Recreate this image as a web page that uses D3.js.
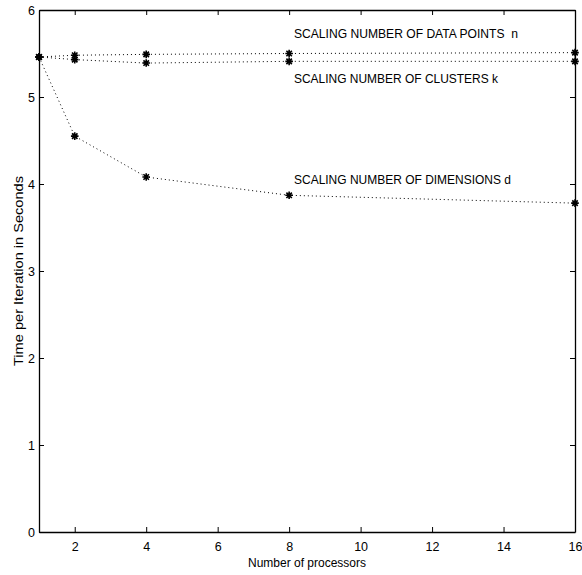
<!DOCTYPE html>
<html>
<head>
<meta charset="utf-8">
<script src="https://cdn.jsdelivr.net/npm/d3@7"></script>
<style>
  html, body { margin: 0; padding: 0; background: #fff; }
  svg { display: block; }
  text { font-family: "Liberation Sans", Arial, Helvetica, sans-serif; fill: #000; }
</style>
</head>
<body>
<svg id="chart" width="582" height="575"></svg>
<script>
// ---- data ----
const processors = [1, 2, 4, 8, 16];
const dataPointsN = [5.46, 5.48, 5.49, 5.50, 5.51];
const clustersK   = [5.46, 5.43, 5.39, 5.41, 5.41];
const dimensionsD = [5.46, 4.55, 4.08, 3.87, 3.78];
const seriesLabels = ["SCALING NUMBER OF DATA POINTS  n", "SCALING NUMBER OF CLUSTERS k", "SCALING NUMBER OF DIMENSIONS d"];
const xTicks = [2, 4, 6, 8, 10, 12, 14, 16];
const yTicks = [0, 1, 2, 3, 4, 5, 6];
const xTitle = "Number of processors";
const yTitle = "Time per Iteration in Seconds";

// ---- layout ----
const L = 39, R = 575, T = 10, B = 532;
const svg = d3.select("#chart");
const x = d3.scaleLinear().domain([1, 16]).range([L, R]);
const y = d3.scaleLinear().domain([0, 6]).range([B, T]);

// axes (ticks pointing inward on all four sides)
const gx = svg.append("g").attr("transform", `translate(0,${B})`)
  .call(d3.axisBottom(x).tickValues(xTicks).tickFormat(d3.format("d")).tickSizeInner(-5).tickSizeOuter(0).tickPadding(10));
const gxt = svg.append("g").attr("transform", `translate(0,${T})`)
  .call(d3.axisTop(x).tickValues(xTicks).tickSizeInner(-5).tickSizeOuter(0).tickFormat(""));
const gy = svg.append("g").attr("transform", `translate(${L},0)`)
  .call(d3.axisLeft(y).tickValues(yTicks).tickFormat(d3.format("d")).tickSizeInner(-5).tickSizeOuter(0).tickPadding(4));
const gyr = svg.append("g").attr("transform", `translate(${R},0)`)
  .call(d3.axisRight(y).tickValues(yTicks).tickSizeInner(-5).tickSizeOuter(0).tickFormat(""));

[gx, gxt, gy, gyr].forEach(g => {
  g.selectAll("path.domain").attr("stroke", "#000").attr("stroke-width", 1.3);
  g.selectAll(".tick line").attr("stroke", "#000").attr("stroke-width", 1);
  g.selectAll(".tick text").attr("font-size", 12.5)
    .attr("font-family", "'Liberation Sans', Arial, sans-serif").attr("fill", "#000");
});
gy.selectAll(".tick text").attr("dy", "0.36em");

// series
const series = [dataPointsN, clustersK, dimensionsD];
const line = d3.line().x(d => x(d[0])).y(d => y(d[1]));
const star = (r) => `M${-r},0L${r},0M0,${-r}L0,${r}M${-r*0.72},${-r*0.72}L${r*0.72},${r*0.72}M${-r*0.72},${r*0.72}L${r*0.72},${-r*0.72}`;

series.forEach(vals => {
  const pts = processors.map((p, i) => [p, vals[i]]);
  svg.append("path").datum(pts).attr("d", line)
    .attr("fill", "none").attr("stroke", "#000").attr("stroke-width", 1)
    .attr("stroke-dasharray", "1,3");
  svg.append("g").selectAll("path").data(pts).join("path")
    .attr("transform", d => `translate(${x(d[0])},${y(d[1])})`)
    .attr("d", star(3.8)).attr("stroke", "#000").attr("stroke-width", 1.6).attr("fill", "none");
});

// series labels
const labelPos = [[294, 38, 224], [294, 83, 204], [294, 184, 217]];
seriesLabels.forEach((t, i) => {
  svg.append("text").attr("x", labelPos[i][0]).attr("y", labelPos[i][1])
    .attr("font-size", 13).attr("textLength", labelPos[i][2]).attr("lengthAdjust", "spacingAndGlyphs")
    .style("white-space", "pre").text(t);
});

// titles
svg.append("text").attr("x", (L + R) / 2).attr("y", 567).attr("text-anchor", "middle")
  .attr("font-size", 12).text(xTitle);
svg.append("text").attr("transform", `translate(23,271) rotate(-90)`).attr("text-anchor", "middle")
  .attr("font-size", 12.5).attr("textLength", 190).attr("lengthAdjust", "spacingAndGlyphs").text(yTitle);
</script>
</body>
</html>
